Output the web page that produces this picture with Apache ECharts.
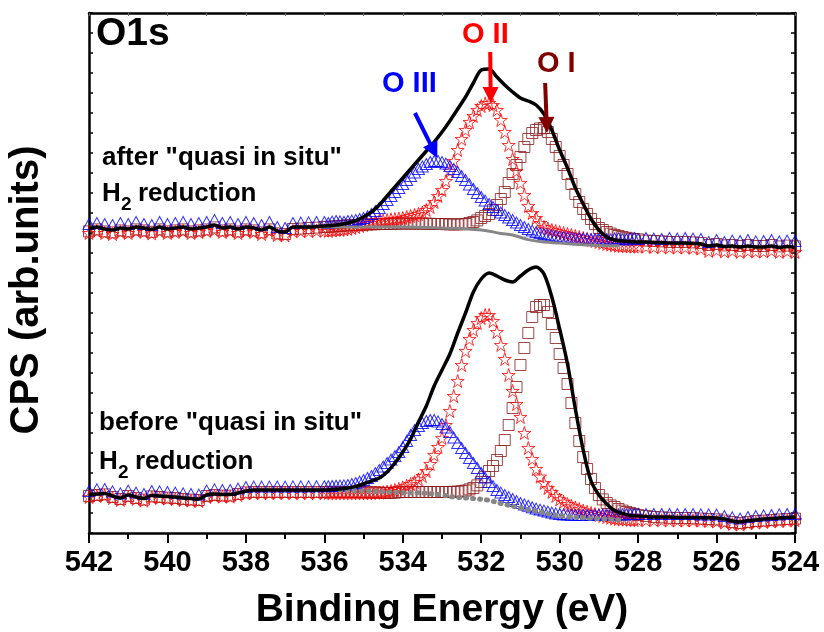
<!DOCTYPE html>
<html><head><meta charset="utf-8">
<script src="https://cdn.jsdelivr.net/npm/echarts@6/dist/echarts.min.js"></script>
<style>html,body{margin:0;padding:0;background:#fff}#c{width:824px;height:632px}</style>
</head><body><div id="c"></div>
<script>
// Binding energy grid for the envelope (fit) lines, eV
const energy = [542.0,541.8,541.6,541.4,541.2,541.0,540.8,540.6,540.4,540.2,
540.0,539.8,539.6,539.4,539.2,539.0,538.8,538.6,538.4,538.2,
538.0,537.8,537.6,537.4,537.2,537.0,536.8,536.6,536.4,536.2,
536.0,535.8,535.6,535.4,535.2,535.0,534.8,534.6,534.4,534.2,
534.0,533.8,533.6,533.4,533.2,533.0,532.8,532.6,532.4,532.2,
532.0,531.8,531.6,531.4,531.2,531.0,530.8,530.6,530.4,530.2,
530.0,529.8,529.6,529.4,529.2,529.0,528.8,528.6,528.4,528.2,
528.0,527.8,527.6,527.4,527.2,527.0,526.8,526.6,526.4,526.2,
526.0,525.8,525.6,525.4,525.2,525.0,524.8,524.6,524.4,524.2,
524.0];
// Binding energy grid for the component markers, eV
const markerEnergy = [542.0,541.8,541.6,541.4,541.2,541.0,540.8,540.6,540.4,540.2,
540.0,539.8,539.6,539.4,539.2,539.0,538.8,538.6,538.4,538.2,
538.0,537.8,537.6,537.4,537.2,537.0,536.8,536.6,536.4,536.2,
536.0,535.9,535.8,535.7,535.6,535.5,535.4,535.3,535.2,535.1,
535.0,534.9,534.8,534.7,534.6,534.5,534.4,534.3,534.2,534.1,
534.0,533.9,533.8,533.7,533.6,533.5,533.4,533.3,533.2,533.1,
533.0,532.9,532.8,532.7,532.6,532.5,532.4,532.3,532.2,532.1,
532.0,531.9,531.8,531.7,531.6,531.5,531.4,531.3,531.2,531.1,
531.0,530.9,530.8,530.7,530.6,530.5,530.4,530.3,530.2,530.1,
530.0,529.9,529.8,529.7,529.6,529.5,529.4,529.3,529.2,529.1,
529.0,528.9,528.8,528.7,528.6,528.5,528.4,528.3,528.2,528.1,
528.0,
527.8,527.6,527.4,527.2,527.0,526.8,526.6,526.4,526.2,
526.0,525.8,525.6,525.4,525.2,525.0,524.8,524.6,524.4,524.2,
524.0];

// ---- after "quasi in situ" H2 reduction (upper, offset) ----
const blackAfter = [15.2,15.3,15.2,15.15,15.25,15.2,15.3,15.25,15.18,15.3,
15.2,15.25,15.3,15.2,15.25,15.3,15.4,15.25,15.3,15.2,
15.3,15.25,15.15,15.3,15.1,15.05,15.3,15.3,15.3,15.32,
15.35,15.37,15.42,15.5,15.62,15.8,16.05,16.4,16.85,17.3,
17.75,18.2,18.65,19.1,19.55,20.05,20.6,21.2,21.8,22.5,
23.15,23.2,22.8,22.4,22.05,21.75,21.6,21.4,20.95,20.15,
19.15,18.25,17.25,16.45,15.7,15.15,14.8,14.65,14.6,14.57,
14.55,14.55,14.53,14.52,14.5,14.5,14.5,14.48,14.45,14.35,
14.4,14.32,14.35,14.3,14.35,14.3,14.3,14.35,14.28,14.32,
14.28];
const oIIIAfter = [15.45,15.5,15.45,15.4,15.5,15.45,15.55,15.45,15.4,15.55,
15.45,15.5,15.55,15.45,15.5,15.55,15.65,15.5,15.55,15.45,
15.55,15.5,15.4,15.55,15.3,15.25,15.5,15.52,15.53,15.55,
15.55,15.5,15.57,15.6,15.58,15.56,15.6,15.62,15.65,15.7,
15.75,15.84,15.95,16.1,16.25,16.45,16.65,16.85,17.05,17.25,
17.45,17.65,17.85,18.03,18.2,18.33,18.45,18.55,18.6,18.6,
18.55,18.47,18.35,18.2,18.05,17.85,17.65,17.43,17.2,17.0,
16.8,16.62,16.45,16.3,16.15,16.02,15.9,15.77,15.65,15.52,
15.4,15.3,15.2,15.12,15.05,15.0,14.95,14.91,14.88,14.85,
14.82,14.8,14.78,14.76,14.74,14.73,14.72,14.71,14.7,14.7,
14.7,14.72,14.7,14.68,14.72,14.74,14.7,14.68,14.72,14.75,
14.7,
14.75,14.72,14.7,14.75,14.72,14.75,14.72,14.7,14.55,
14.65,14.55,14.62,14.6,14.65,14.58,14.6,14.65,14.58,14.62,
14.6];
const oIIAfter = [15.0,15.1,15.0,14.95,15.05,15.0,15.1,15.05,14.98,15.1,
15.0,15.05,15.1,15.0,15.05,15.1,15.15,15.05,15.1,15.0,
15.1,15.05,14.95,15.1,14.9,14.88,15.1,15.1,15.1,15.12,
15.12,15.1,15.13,15.15,15.15,15.18,15.2,15.25,15.3,15.35,
15.4,15.45,15.5,15.55,15.6,15.62,15.65,15.68,15.7,15.72,
15.75,15.8,15.85,15.9,15.95,16.03,16.15,16.3,16.55,16.85,
17.15,17.6,18.1,18.6,19.15,19.7,20.15,20.55,20.85,21.15,
21.35,21.48,21.5,21.4,21.15,20.65,20.05,19.4,18.7,18.1,
17.5,16.9,16.35,16.0,15.75,15.5,15.3,15.22,15.15,15.1,
15.05,15.0,14.95,14.9,14.85,14.8,14.75,14.7,14.65,14.6,
14.55,14.5,14.45,14.42,14.38,14.36,14.35,14.34,14.33,14.32,
14.32,
14.32,14.3,14.3,14.28,14.28,14.28,14.26,14.22,14.1,
14.15,14.08,14.12,14.05,14.1,14.08,14.08,14.12,14.05,14.1,
14.05];
const oIAfter = [15.08,15.18,15.08,15.03,15.13,15.08,15.18,15.13,15.06,15.18,
15.08,15.13,15.18,15.08,15.13,15.18,15.28,15.13,15.18,15.08,
15.18,15.13,15.03,15.18,14.98,14.95,15.2,15.22,15.25,15.27,
15.3,15.31,15.32,15.33,15.35,15.37,15.38,15.39,15.4,15.41,
15.42,15.43,15.43,15.44,15.45,15.45,15.45,15.46,15.47,15.47,
15.47,15.47,15.47,15.47,15.47,15.47,15.47,15.46,15.45,15.45,
15.45,15.44,15.43,15.43,15.43,15.44,15.45,15.5,15.55,15.63,
15.75,15.85,15.95,16.15,16.4,16.7,17.05,17.5,17.95,18.4,
18.8,19.3,19.7,20.0,20.15,20.23,20.25,20.05,19.7,19.3,
18.85,18.4,17.95,17.45,16.95,16.55,16.2,15.95,15.7,15.45,
15.25,15.15,15.05,14.97,14.9,14.85,14.8,14.76,14.72,14.7,
14.68,
14.62,14.6,14.58,14.55,14.55,14.55,14.53,14.5,14.4,
14.45,14.38,14.4,14.35,14.4,14.35,14.35,14.4,14.33,14.37,
14.33];
const bgAfterE = [536.5,535.0,534.0,533.0,532.0,531.5,531.2,530.8,530.4,530.0,529.5,529.0,528.5];
const bgAfterV = [15.3,15.3,15.3,15.25,15.15,14.98,14.9,14.67,14.55,14.5,14.42,14.38,14.36];

// ---- before "quasi in situ" H2 reduction (lower) ----
const blackBefore = [1.9,1.95,1.98,1.85,1.75,1.9,1.8,1.72,1.88,1.85,
1.82,1.8,1.75,1.72,1.7,1.9,1.95,1.92,1.92,2.0,
2.1,2.15,2.15,2.15,2.15,2.15,2.15,2.15,2.15,2.15,
2.15,2.17,2.2,2.25,2.33,2.45,2.6,2.75,3.05,3.5,
4.05,4.7,5.55,6.35,7.35,8.15,8.95,10.0,11.0,12.05,
12.7,13.0,12.85,12.65,12.55,12.85,13.15,13.3,12.95,11.8,
10.2,8.45,6.2,4.15,2.6,1.9,1.45,1.12,0.98,0.88,
0.85,0.82,0.8,0.8,0.8,0.78,0.78,0.78,0.76,0.76,
0.75,0.7,0.6,0.55,0.62,0.65,0.7,0.72,0.75,0.78,
0.8];
const oIIIBefore = [2.1,2.18,2.2,2.08,1.98,2.12,2.02,1.95,2.1,2.08,
2.05,2.02,1.98,1.95,1.92,2.12,2.18,2.15,2.15,2.22,
2.3,2.32,2.32,2.32,2.32,2.32,2.33,2.33,2.33,2.34,
2.34,2.34,2.35,2.36,2.37,2.38,2.4,2.45,2.5,2.57,
2.65,2.75,2.85,3.0,3.15,3.32,3.5,3.67,3.85,4.05,
4.3,4.6,4.9,5.15,5.35,5.5,5.6,5.65,5.65,5.58,
5.45,5.27,5.05,4.78,4.5,4.25,4.0,3.75,3.5,3.25,
3.0,2.77,2.55,2.35,2.15,2.02,1.9,1.8,1.7,1.6,
1.5,1.43,1.36,1.29,1.22,1.17,1.12,1.07,1.02,0.98,
0.95,0.93,0.92,0.91,0.9,0.9,0.9,0.9,0.9,0.91,
0.92,0.92,0.92,0.93,0.93,0.93,0.93,0.94,0.94,0.95,
0.95,
0.95,0.95,0.95,0.95,0.95,0.95,0.95,0.93,0.93,
0.92,0.85,0.78,0.72,0.8,0.85,0.88,0.9,0.93,0.95,
0.95];
const oIIBefore = [1.8,1.85,1.88,1.75,1.65,1.8,1.7,1.62,1.78,1.75,
1.72,1.7,1.65,1.62,1.6,1.8,1.85,1.82,1.82,1.9,
1.98,2.0,2.0,2.0,2.0,2.0,2.0,2.0,2.0,2.0,
2.0,2.0,2.0,2.0,2.0,2.0,2.0,2.0,2.0,2.0,
2.0,2.0,2.0,2.01,2.02,2.04,2.07,2.1,2.15,2.21,
2.28,2.36,2.45,2.55,2.68,2.85,3.1,3.45,3.9,4.3,
4.75,5.4,6.1,6.85,7.6,8.4,9.1,9.7,10.15,10.5,
10.75,10.9,10.9,10.6,10.05,9.4,8.7,7.9,7.1,6.45,
5.8,5.0,4.25,3.7,3.2,2.82,2.5,2.25,2.05,1.85,
1.68,1.56,1.45,1.36,1.28,1.2,1.12,1.06,1.0,0.95,
0.9,0.85,0.8,0.76,0.72,0.7,0.68,0.67,0.66,0.65,
0.65,
0.65,0.65,0.64,0.64,0.63,0.63,0.63,0.62,0.6,
0.58,0.52,0.45,0.42,0.48,0.52,0.55,0.58,0.6,0.62,
0.65];
const oIBefore = [1.85,1.9,1.93,1.8,1.7,1.85,1.75,1.67,1.83,1.8,
1.77,1.75,1.7,1.67,1.65,1.85,1.9,1.87,1.87,1.95,
2.03,2.05,2.05,2.05,2.05,2.05,2.05,2.05,2.05,2.05,
2.05,2.05,2.05,2.05,2.05,2.05,2.05,2.05,2.05,2.05,
2.04,2.04,2.03,2.03,2.02,2.01,2.0,2.01,2.02,2.04,
2.05,2.05,2.05,2.05,2.05,2.05,2.05,2.05,2.05,2.05,
2.05,2.05,2.05,2.06,2.07,2.09,2.12,2.18,2.25,2.38,
2.55,2.8,3.1,3.35,3.65,4.1,4.65,5.4,6.25,7.3,
8.4,9.25,10.0,10.8,11.3,11.4,11.4,11.05,10.45,9.75,
8.95,8.25,7.45,6.5,5.5,4.6,3.8,3.2,2.7,2.25,
1.9,1.68,1.5,1.38,1.3,1.2,1.12,1.05,1.0,0.95,
0.9,
0.85,0.8,0.78,0.76,0.75,0.75,0.74,0.72,0.7,
0.68,0.62,0.55,0.5,0.55,0.6,0.62,0.65,0.68,0.7,
0.72];
const bgBeforeE = [535.6,535.0,534.0,533.5,533.0,532.7,532.2,531.85,531.5,531.0,530.5,530.17,529.8,529.3,528.46];
const bgBeforeV = [2.15,2.1,2.02,2.0,1.9,1.8,1.72,1.65,1.48,1.25,1.05,0.9,0.82,0.75,0.65];

// Annotation arrows: [startE, startV, endE, endV]
const arrowOIII = [533.69, 21.0, 533.21, 19.11];
const arrowOII = [531.77, 24.05, 531.76, 21.9];
const arrowOI = [530.37, 22.5, 530.33, 20.4];

const FONT = '"Liberation Sans", Arial, Helvetica, sans-serif';
const BLUE = '#0000ff', RED = '#ff0000', DRED = '#8b1a1a', LBL_DRED = '#800000', GRAY = '#868686';
const pairs = (xs, ys) => xs.map((x, i) => [x, ys[i]]);
const STAR = 'path://M50,0L61.2,34.5L97.6,34.5L68.2,55.9L79.4,90.5L50,69.1L20.6,90.5L31.8,55.9L2.4,34.5L38.8,34.5Z';

function markers(ys, symbol, size, color, arrow) {
  const s = {
    type: 'scatter', data: pairs(markerEnergy, ys), symbol: symbol, symbolSize: size,
    itemStyle: { color: 'rgba(0,0,0,0)', borderColor: color, borderWidth: 1 },
    silent: true, z: 2
  };
  if (arrow) {
    const c = color === DRED ? LBL_DRED : color;
    s.markLine = {
      silent: true, symbol: ['none', 'triangle'], symbolSize: 16,
      label: { show: false },
      lineStyle: { color: c, width: 4, type: 'solid' },
      itemStyle: { color: c },
      data: [[{ coord: [arrow[0], arrow[1]] }, { coord: [arrow[2], arrow[3]] }]]
    };
  }
  return s;
}
function fitLine(ys) {
  return { type: 'line', data: pairs(energy, ys), showSymbol: false, smooth: 0.3,
    lineStyle: { color: '#000', width: 3.5 }, silent: true, z: 4 };
}
function bgLine(es, vs, dotted) {
  return { type: 'line', data: pairs(es, vs), showSymbol: false, smooth: 0.4,
    lineStyle: { color: GRAY, width: dotted ? 5 : 3, type: dotted ? [1, 6] : 'solid', cap: 'round' },
    silent: true, z: 3 };
}

const axisLineStyle = { color: '#000', width: 2.5 };
const chart = echarts.init(document.getElementById('c'), null, { renderer: 'canvas' });
chart.setOption({
  animation: false,
  backgroundColor: '#fff',
  grid: { left: 89, right: 29, top: 13, bottom: 99, containLabel: false },
  xAxis: [
    { type: 'value', min: 524, max: 542, interval: 2, inverse: true, position: 'bottom',
      axisLine: { show: true, onZero: false, lineStyle: axisLineStyle },
      axisTick: { show: true, inside: false, length: 10, lineStyle: { color: '#000', width: 2 } },
      minorTick: { show: true, splitNumber: 2, length: 6, lineStyle: { color: '#000', width: 2 } },
      axisLabel: { margin: 15, fontSize: 29, fontWeight: 'bold', fontFamily: FONT, color: '#000',
        showMinLabel: true, showMaxLabel: true },
      splitLine: { show: false } },
    { type: 'value', min: 524, max: 542, interval: 1, inverse: true, position: 'top',
      axisLine: { show: true, onZero: false, lineStyle: axisLineStyle },
      axisTick: { show: true, inside: true, length: 3, lineStyle: { color: '#666', width: 1 } },
      axisLabel: { show: false }, splitLine: { show: false } }
  ],
  yAxis: [
    { type: 'value', min: 0, max: 26, interval: 1, position: 'left',
      axisLine: { show: true, onZero: false, lineStyle: axisLineStyle },
      axisTick: { show: true, inside: true, length: 4, lineStyle: { color: '#000', width: 1.5 } },
      axisLabel: { show: false }, splitLine: { show: false } },
    { type: 'value', min: 0, max: 26, interval: 1, position: 'right',
      axisLine: { show: true, onZero: false, lineStyle: axisLineStyle },
      axisTick: { show: true, inside: true, length: 4, lineStyle: { color: '#000', width: 1.5 } },
      axisLabel: { show: false }, splitLine: { show: false } }
  ],
  series: [
    markers(oIAfter, 'rect', 11, DRED, arrowOI),
    markers(oIIAfter, STAR, 13, RED, arrowOII),
    markers(oIIIAfter, 'triangle', [12, 11], BLUE, arrowOIII),
    bgLine(bgAfterE, bgAfterV, false),
    fitLine(blackAfter),
    markers(oIBefore, 'rect', 11, DRED, null),
    markers(oIIBefore, STAR, 13, RED, null),
    markers(oIIIBefore, 'triangle', [12, 11], BLUE, null),
    bgLine(bgBeforeE, bgBeforeV, true),
    fitLine(blackBefore)
  ],
  graphic: [
    { type: 'text', x: 96, y: 34, style: { text: 'O1s', font: 'bold 39px ' + FONT, fill: '#000', textVerticalAlign: 'middle', verticalAlign: 'middle' } },
    { type: 'text', x: 102, y: 158, style: { text: 'after "quasi in situ"', font: 'bold 26px ' + FONT, fill: '#000', textVerticalAlign: 'middle', verticalAlign: 'middle' } },
    { type: 'text', x: 102, y: 194, style: { text: 'H', font: 'bold 26px ' + FONT, fill: '#000', textVerticalAlign: 'middle', verticalAlign: 'middle' } },
    { type: 'text', x: 121, y: 205, style: { text: '2', font: 'bold 19px ' + FONT, fill: '#000', textVerticalAlign: 'middle', verticalAlign: 'middle' } },
    { type: 'text', x: 138, y: 194, style: { text: 'reduction', font: 'bold 26px ' + FONT, fill: '#000', textVerticalAlign: 'middle', verticalAlign: 'middle' } },
    { type: 'text', x: 99, y: 423, style: { text: 'before "quasi in situ"', font: 'bold 26px ' + FONT, fill: '#000', textVerticalAlign: 'middle', verticalAlign: 'middle' } },
    { type: 'text', x: 99, y: 462, style: { text: 'H', font: 'bold 26px ' + FONT, fill: '#000', textVerticalAlign: 'middle', verticalAlign: 'middle' } },
    { type: 'text', x: 118, y: 473, style: { text: '2', font: 'bold 19px ' + FONT, fill: '#000', textVerticalAlign: 'middle', verticalAlign: 'middle' } },
    { type: 'text', x: 135, y: 462, style: { text: 'reduction', font: 'bold 26px ' + FONT, fill: '#000', textVerticalAlign: 'middle', verticalAlign: 'middle' } },
    { type: 'text', x: 382, y: 84, style: { text: 'O III', font: 'bold 29px ' + FONT, fill: BLUE, textVerticalAlign: 'middle', verticalAlign: 'middle' } },
    { type: 'text', x: 462, y: 35, style: { text: 'O II', font: 'bold 29px ' + FONT, fill: RED, textVerticalAlign: 'middle', verticalAlign: 'middle' } },
    { type: 'text', x: 537, y: 64, style: { text: 'O I', font: 'bold 29px ' + FONT, fill: LBL_DRED, textVerticalAlign: 'middle', verticalAlign: 'middle' } },
    { type: 'text', x: 442, y: 610, style: { text: 'Binding Energy (eV)', font: 'bold 39px ' + FONT, fill: '#000', textAlign: 'center', align: 'center', textVerticalAlign: 'middle', verticalAlign: 'middle' } },
    { type: 'text', x: 27, y: 290, rotation: Math.PI / 2, style: { text: 'CPS (arb.units)', font: 'bold 40px ' + FONT, fill: '#000', textAlign: 'center', align: 'center', textVerticalAlign: 'middle', verticalAlign: 'middle' } }
  ]
});
</script>
</body></html>
